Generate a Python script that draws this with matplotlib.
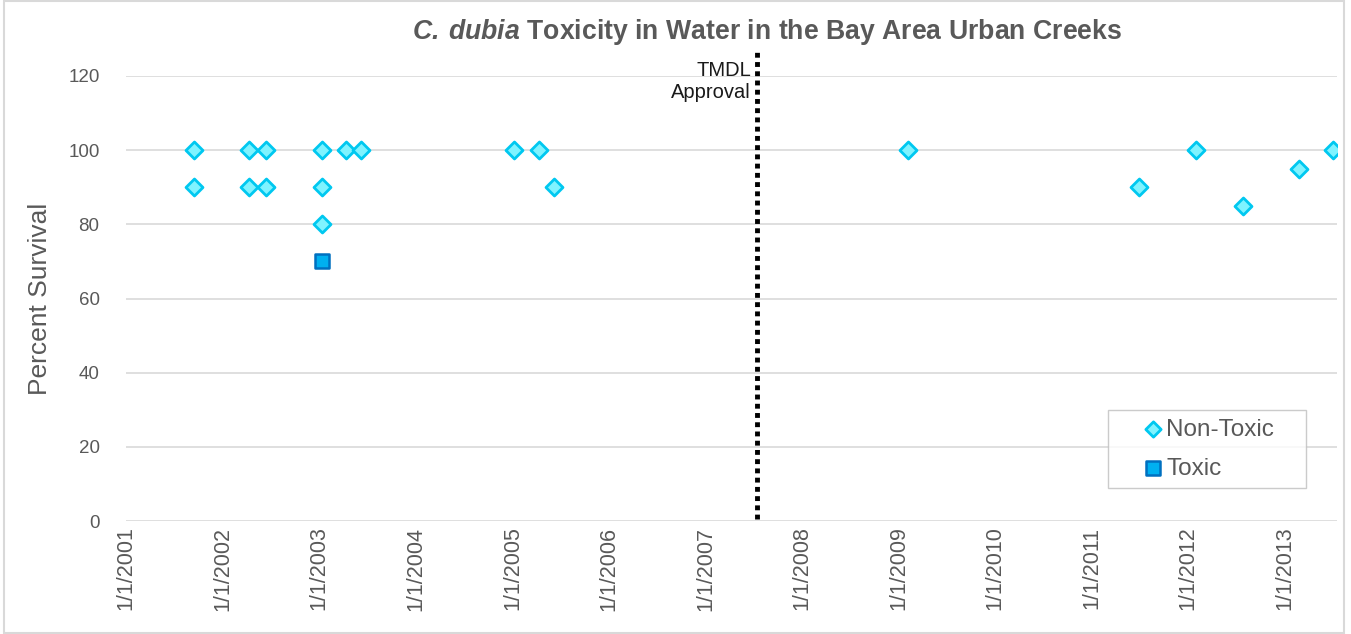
import numpy as np
import pandas as pd
import matplotlib
matplotlib.use('Agg')
import matplotlib.pyplot as plt
from matplotlib.patches import Rectangle

plt.rcParams['font.family'] = ['Liberation Sans', 'DejaVu Sans']
plt.rcParams['mathtext.fontset'] = 'custom'
plt.rcParams['mathtext.bfit'] = 'Liberation Sans:italic:bold'
plt.rcParams['mathtext.rm'] = 'Liberation Sans:bold'

# Non-toxic samples (sample date, percent survival)
nontox_dates = ['2001-09-17', '2001-09-17', '2002-04-10', '2002-04-10',
                '2002-06-14', '2002-06-14', '2003-01-12', '2003-01-12',
                '2003-01-12', '2003-04-12', '2003-06-10', '2005-01-08',
                '2005-04-12', '2005-06-06', '2009-02-03', '2011-06-28',
                '2012-01-30', '2012-07-27', '2013-02-24', '2013-07-01']
nontox_vals = [100, 90, 100, 90, 100, 90, 100, 90, 80, 100, 100,
               100, 100, 90, 100, 90, 100, 85, 95, 100]

# Toxic samples
tox_dates = ['2003-01-12']
tox_vals = [70]

tmdl_date = '2007-07-15'
tick_years = list(range(2001, 2014))

grey = '#595959'

fig = plt.figure(figsize=(13.51, 6.34), dpi=100)
ax = fig.add_axes([126/1351, 1-521/634, (1337-126)/1351, (521-76)/634])

ax.scatter(pd.to_datetime(nontox_dates), nontox_vals, marker='D', s=75,
           facecolor='#7FF3FF', edgecolor='#00C8F0', linewidth=2,
           label='Non-Toxic', zorder=3)
ax.scatter(pd.to_datetime(tox_dates), tox_vals, marker='s', s=110,
           facecolor='#00B0F0', edgecolor='#0070C0', linewidth=1.8,
           label='Toxic', zorder=3)

# TMDL approval line
t = pd.to_datetime(tmdl_date)
ax.plot([t, t], [0.5, 126.5], color='black', linestyle=(0, (1, 0.9)),
        linewidth=3.5, clip_on=False, zorder=4)
ax.text(t - pd.Timedelta(days=22), 118.6, 'TMDL\nApproval', ha='right', va='center',
        fontsize=14.5, color='#1a1a1a', linespacing=1.2)

ax.set_xlim(pd.Timestamp('2001-01-01'), pd.Timestamp('2013-07-16'))
ax.set_ylim(0, 120)
ax.set_yticks(range(0, 121, 20))
ticks = [pd.Timestamp(f'{y}-01-01') for y in tick_years]
ax.set_xticks(ticks)
ax.set_xticklabels([f'1/1/{y}' for y in tick_years], rotation=90,
                   fontsize=15.5, color=grey)
ax.tick_params(axis='y', labelsize=13.5, colors=grey, length=0, pad=19)
ax.tick_params(axis='x', length=0, pad=4)
ax.grid(axis='y', color='#D9D9D9', linewidth=1.2)
ax.set_axisbelow(True)
for s in ax.spines.values():
    s.set_visible(False)

ax.set_ylabel('Percent Survival', fontsize=19, color=grey, labelpad=12)

fig.text(767/1351, 1-32/634,
         r'$\mathbfit{C.}\,\mathbfit{dubia}$ Toxicity in Water in the Bay Area Urban Creeks',
         ha='center', va='center', fontsize=19.2, fontweight='bold', color=grey)

leg = ax.legend(loc='lower left', bbox_to_anchor=((1108-126)/1211, (521-488)/445,
                (1306-1108)/1211, (488-406)/445), mode='expand', borderaxespad=0,
                fontsize=17.5, frameon=True, fancybox=False, borderpad=0.34,
                handletextpad=-0.95, labelspacing=0.7, labelcolor=grey,
                markerscale=0.9, handlelength=3.0)
leg.get_frame().set_edgecolor('#BFBFBF')
leg.get_frame().set_linewidth(1.0)

fig.patches.append(Rectangle((4/1351, 0.002), 1340/1351, 0.996, transform=fig.transFigure,
                             fill=False, edgecolor='#D9D9D9', linewidth=1.5))

fig.savefig('out.png', dpi=100)
